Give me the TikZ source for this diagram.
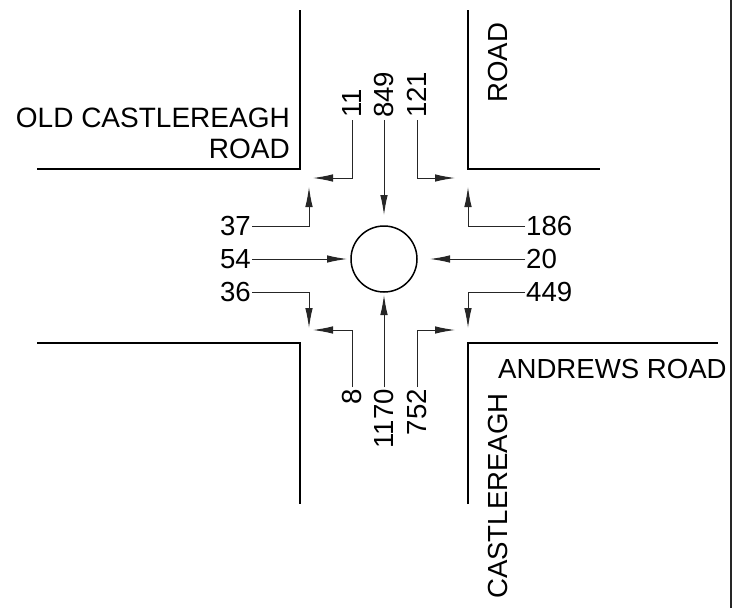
\documentclass[tikz,border=0pt]{standalone}
\usepackage{fontspec}
\setmainfont{Liberation Sans}
\usetikzlibrary{arrows.meta}
\tikzset{
  road/.style={line width=1.6pt,black},
  flow/.style={line width=1pt,black!85,-{Latex[length=20pt,width=7.5pt]}},
  lbl/.style={font=\fontsize{27.6}{31}\selectfont,inner sep=0pt,text=black},
  vlbl/.style={lbl,rotate=90},
}
\begin{document}
\begin{tikzpicture}[x=1pt,y=-1pt]
\useasboundingbox (0,0) rectangle (737,608);
\fill[white] (0,0) rectangle (737,608);
% border
\coordinate (bt) at (731,0); \coordinate (bb) at (731,608);
\draw[line width=1.3pt,black!85] (bt) -- (bb);
% roads
\draw[road] (300,10) -- (300,169) -- (37,169);
\draw[road] (468,10) -- (468,169) -- (600,169);
\draw[road] (37,343) -- (300,343) -- (300,504);
\draw[road] (468,504) -- (468,343) -- (718,343);
% roundabout
\node[circle,draw,line width=1.5pt,minimum size=66pt,inner sep=0pt] (rb) at (384,259) {};
% road names
\node[lbl,font=\fontsize{28}{31}\selectfont,align=right,anchor=base east] (oldcr) at (290,158) {OLD CASTLEREAGH\\ROAD};
\node[vlbl,anchor=base west] (roadn) at (507,103) {ROAD};
\node[lbl,anchor=base west] (andrews) at (498,378) {ANDREWS ROAD};
\node[vlbl,anchor=base west] (castle) at (507,599) {CASTLEREAGH};
% top labels
\node[vlbl,anchor=west] (n11) at (352,118) {11};
\node[vlbl,anchor=west] (n849) at (384,118) {849};
\node[vlbl,anchor=west] (n121) at (417,118) {121};
% left labels
\node[lbl,anchor=east] (n37) at (251,226) {37};
\node[lbl,anchor=east] (n54) at (251,259) {54};
\node[lbl,anchor=east] (n36) at (251,292) {36};
% right labels
\node[lbl,anchor=west] (n186) at (526,226) {186};
\node[lbl,anchor=west] (n20) at (526,259) {20};
\node[lbl,anchor=west] (n449) at (526,292) {449};
% bottom labels
\node[vlbl,anchor=east] (n8) at (352,389) {8};
\node[vlbl,anchor=east] (n1170) at (384,389) {1170};
\node[vlbl,anchor=east] (n752) at (417,389) {752};
% arrow tips
\coordinate (t11) at (313,178); \coordinate (t121) at (455,178);
\coordinate (t37) at (309,187); \coordinate (t186) at (468,187);
\coordinate (t36) at (309,328); \coordinate (t449) at (468,328);
\coordinate (t8) at (313,330); \coordinate (t752) at (455,330);
\coordinate (t849) at (384,215); \coordinate (t1170) at (384,295);
\coordinate (t54) at (347,259); \coordinate (t20) at (430,259);
% connectors
\draw[flow,shorten <=2pt] (n11.west) |- (t11);
\draw[flow,shorten <=2pt] (n849.west) -- (t849);
\draw[flow,shorten <=2pt] (n121.west) |- (t121);
\draw[flow,shorten <=1pt] (n37.east) -| (t37);
\draw[flow,shorten <=1pt] (n54.east) -- (t54);
\draw[flow,shorten <=1pt] (n36.east) -| (t36);
\draw[flow,shorten <=1pt] (n186.west) -| (t186);
\draw[flow,shorten <=1pt] (n20.west) -- (t20);
\draw[flow,shorten <=1pt] (n449.west) -| (t449);
\draw[flow,shorten <=2pt] (n8.east) |- (t8);
\draw[flow,shorten <=2pt] (n1170.east) -- (t1170);
\draw[flow,shorten <=2pt] (n752.east) |- (t752);
\end{tikzpicture}
\end{document}
